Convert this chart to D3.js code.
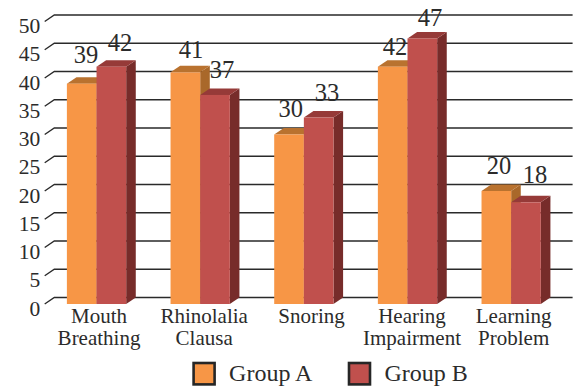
<!DOCTYPE html>
<html>
<head>
<meta charset="utf-8">
<script src="https://cdn.jsdelivr.net/npm/d3@7"></script>
<style>
  html, body { margin: 0; padding: 0; background: #fff; }
  text { font-family: "Liberation Serif", serif; fill: #2b2b2b; }
  svg { display: block; }
</style>
</head>
<body>
<script>
const categories = [['Mouth', 'Breathing'], ['Rhinolalia', 'Clausa'], ['Snoring'], ['Hearing', 'Impairment'], ['Learning', 'Problem']];
const seriesNames = ['Group A', 'Group B'];
const groupA = [39, 41, 30, 42, 20];
const groupB = [42, 37, 33, 47, 18];
const yTicks = [0, 5, 10, 15, 20, 25, 30, 35, 40, 45, 50];

const frontColours = ['#f79646', '#c0504d'];
const topColours = ['#b9722f', '#963a38'];
const sideColours = ['#a9682a', '#772c2a'];

// value label nudges, [dx, dy] from the default spot over each bar
const nudgeA = [[4.3, -4.6], [5.6, 1.6], [1.7, -1.2], [2.3, 4.3], [2.7, -1]];
const nudgeB = [[8.7, 0.3], [7, -1], [8.4, -0.5], [7.7, 3.5], [9.1, -3.3]];
const categoryNudge = [2.5, 4, 7.7, 4.5, 2.5];

const width = 584;
const height = 388;
const depthX = 9.6;   // how far the 3d floor runs right
const depthY = 6.5;   // and up

const svg = d3.select('body').append('svg')
  .attr('width', width)
  .attr('height', height);

const y = d3.scaleLinear().domain([0, 50]).range([304, 21.5]);
const x0 = d3.scaleBand().domain(d3.range(categories.length)).range([44.7, 563]);
const barRange = [x0.bandwidth() * 0.214, x0.bandwidth() * 0.786];
const x1 = d3.scaleBand().domain(d3.range(seriesNames.length)).range(barRange);

// back wall lines plus the short diagonal going to the front edge
const grid = svg.append('g');
grid.selectAll('path')
  .data(yTicks)
  .enter()
  .append('path')
  .attr('d', d => {
    const p = d3.path();
    p.moveTo(x0.range()[0], y(d));
    p.lineTo(x0.range()[0] + depthX, y(d) - depthY);
    p.lineTo(x0.range()[1] + depthX, y(d) - depthY);
    return p.toString();
  })
  .attr('fill', 'none')
  .attr('stroke', '#2a2a2a')
  .attr('stroke-width', 1.4);

const yAxis = d3.axisLeft(y).tickValues(yTicks).tickSize(0).tickPadding(4.5);
const yAxisG = svg.append('g')
  .attr('transform', 'translate(44.7,0)')
  .call(yAxis);
yAxisG.select('.domain').remove();
yAxisG.selectAll('text')
  .style('font-family', '"Liberation Serif", serif')
  .style('font-size', '21.5px')
  .attr('fill', '#2b2b2b')
  .attr('dy', '0.52em');

// one entry for every bar, A then B in each group so B paints over A's side face
const bars = [];
categories.forEach((c, i) => {
  bars.push({ group: i, series: 0, value: groupA[i], nudge: nudgeA[i] });
  bars.push({ group: i, series: 1, value: groupB[i], nudge: nudgeB[i] });
});

const barG = svg.append('g').selectAll('g')
  .data(bars)
  .enter()
  .append('g')
  .attr('transform', d => 'translate(' + (x0(d.group) + x1(d.series)) + ',' + y(d.value) + ')');

const barW = x1.bandwidth();

barG.append('path') // side
  .attr('d', d => {
    const h = y(0) - y(d.value);
    return `M${barW},0 l${depthX},${-depthY} v${h} l${-depthX},${depthY} Z`;
  })
  .attr('fill', d => sideColours[d.series]);

barG.append('path') // top
  .attr('d', `M0,0 l${depthX},${-depthY} h${barW} l${-depthX},${depthY} Z`)
  .attr('fill', d => topColours[d.series]);

barG.append('rect') // front
  .attr('width', barW)
  .attr('height', d => y(0) - y(d.value))
  .attr('fill', d => frontColours[d.series]);

svg.append('g').selectAll('text')
  .data(bars)
  .enter()
  .append('text')
  .attr('x', d => x0(d.group) + x1(d.series) + barW / 2 + d.nudge[0])
  .attr('y', d => y(d.value) - depthY - 9.5 + d.nudge[1])
  .attr('text-anchor', 'middle')
  .attr('font-size', 24.5)
  .text(d => d.value);

// category labels, two lines where needed
const xAxis = d3.axisBottom(x0).tickSize(0).tickFormat('');
const xAxisG = svg.append('g')
  .attr('transform', 'translate(0,' + y(0) + ')')
  .call(xAxis);
xAxisG.select('.domain').remove();
xAxisG.selectAll('.tick').select('text').remove();
xAxisG.selectAll('.tick').append('text')
  .attr('text-anchor', 'middle')
  .style('font-size', '21px')
  .selectAll('tspan')
  .data((d, i) => categories[i].map(line => ({ line: line, dx: categoryNudge[i] })))
  .enter()
  .append('tspan')
  .attr('x', d => d.dx)
  .attr('y', (d, i) => 18.7 + i * 22)
  .text(d => d.line);

// legend
const legendX = [193.6, 349];
const legend = svg.append('g').selectAll('g')
  .data(seriesNames)
  .enter()
  .append('g')
  .attr('transform', (d, i) => 'translate(' + legendX[i] + ',363)');

legend.append('rect')
  .attr('width', 21)
  .attr('height', 21.4)
  .attr('fill', (d, i) => frontColours[i])
  .attr('stroke', '#262626')
  .attr('stroke-width', 2.6);

legend.append('text')
  .attr('x', 35.5)
  .attr('y', 18)
  .attr('font-size', 24)
  .text(d => d);
</script>
</body>
</html>
